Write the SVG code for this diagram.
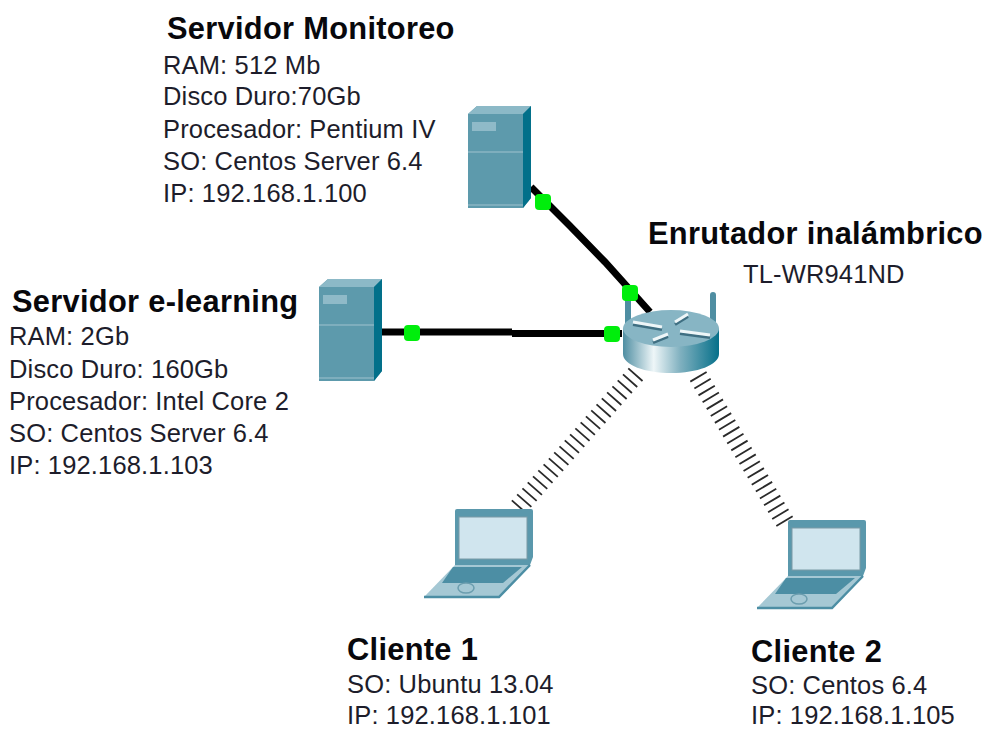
<svg xmlns="http://www.w3.org/2000/svg" width="988" height="729" viewBox="0 0 988 729">
<defs>
<style>
text{font-family:"Liberation Sans",Arial,sans-serif;fill:#1d1d2b;font-size:25.5px;letter-spacing:.15px}
.t{font-weight:bold;font-size:30.8px;fill:#08080c;letter-spacing:.3px}
.wire{stroke:#000;stroke-width:7;fill:none}
.wl{stroke:#2a2a2a;stroke-width:19;stroke-dasharray:1.8 6.2;fill:none}
.led{fill:#00ee0c}
</style>
<linearGradient id="rg" x1="0" x2="1" y1="0" y2="0">
<stop offset="0" stop-color="#4f8ea2"/><stop offset=".32" stop-color="#eef6f8"/><stop offset=".6" stop-color="#7fb0bf"/><stop offset="1" stop-color="#06708a"/>
</linearGradient>
<g id="srv">
<path d="M0 8L9 0H63V92L55 102H0Z" fill="#5d9aac"/>
<path d="M0 8L9 0H63L55 8Z" fill="#8cb9c7"/>
<path d="M55 8L63 0V92L55 102Z" fill="#02708a"/>
<path d="M0 46H55" stroke="#7eaebd" stroke-width="2"/>
<path d="M0 99H55" stroke="#7eaebd" stroke-width="2"/>
<rect x="4" y="16" width="24" height="9" fill="#8fbac8"/>
</g>
<g id="lap">
<path d="M33 0H107Q109 0 109 2V48L106 56H31V2Q31 0 33 0Z" fill="#5a98ac"/>
<rect x="35" y="8" width="68" height="42" fill="#d0e5ee" stroke="#7b9aa6"/>
<path d="M31 56H106L75 88H0Z" fill="#a5c8d4"/>
<path d="M29 58H98L79 74H18Z" fill="#4c8ea4"/>
<path d="M0 88H75L106 56" fill="none" stroke="#4c8ea4" stroke-width="2.5"/>
<ellipse cx="42" cy="79" rx="8" ry="5" fill="none" stroke="#6b9dae" stroke-width="1.500"/>
</g>
</defs>
<rect width="988" height="729" fill="#fff"/>
<g id="connectors">
<path class="wire" d="M531 187L570 226L605 262L650 312"/>
<path class="wire" d="M382 332H512M512 333.500H622"/>
<path class="wl" d="M636 374L516 510"/>
<path class="wl" d="M698 376L788 527"/>
</g>
<g id="servidor-monitoreo">
<use href="#srv" x="468" y="106"/>
<text class="t" x="167" y="39">Servidor Monitoreo</text>
<text x="163" y="74">RAM: 512 Mb</text>
<text x="163" y="105">Disco Duro:70Gb</text>
<text x="163" y="138">Procesador: Pentium IV</text>
<text x="163" y="170">SO: Centos Server 6.4</text>
<text x="163" y="202">IP: 192.168.1.100</text>
</g>
<g id="servidor-elearning">
<use href="#srv" x="319" y="279"/>
<text class="t" x="12" y="312">Servidor e-learning</text>
<text x="9" y="345">RAM: 2Gb</text>
<text x="9" y="378">Disco Duro: 160Gb</text>
<text x="9" y="410">Procesador: Intel Core 2</text>
<text x="9" y="442">SO: Centos Server 6.4</text>
<text x="9" y="474">IP: 192.168.1.103</text>
</g>
<g id="enrutador">
<path d="M628 332V296M713 332V295" stroke="#4f8ea2" stroke-width="6" stroke-linecap="round" fill="none"/>
<path d="M623 328V354C623 365 645 373 671 373S719 365 719 354V328Z" fill="url(#rg)"/>
<ellipse cx="671" cy="328.500" rx="48" ry="18.500" fill="#87b5c4"/>
<path d="M633 323L662 328M675 323L688 315M680 332L710 336M653 341L668 335" stroke="#3f6f82" stroke-width="3" fill="none" transform="translate(0 1.500)"/>
<path d="M633 322L662 327M675 322L688 314M680 331L710 335M653 340L668 334" stroke="#eef6f8" stroke-width="3" fill="none"/>
<text class="t" x="648" y="244">Enrutador inalámbrico</text>
<text x="743" y="283">TL-WR941ND</text>
</g>
<g id="cliente-1">
<use href="#lap" x="424" y="509"/>
<text class="t" x="347" y="660">Cliente 1</text>
<text x="347" y="693">SO: Ubuntu 13.04</text>
<text x="347" y="723.500">IP: 192.168.1.101</text>
</g>
<g id="cliente-2">
<use href="#lap" x="757" y="520"/>
<text class="t" x="751" y="662">Cliente 2</text>
<text x="751" y="694">SO: Centos 6.4</text>
<text x="751" y="723.500">IP: 192.168.1.105</text>
</g>
<g id="links-status">
<rect class="led" x="535" y="194" width="16" height="16" rx="4"/>
<rect class="led" x="622" y="285" width="16" height="16" rx="4"/>
<rect class="led" x="404" y="325" width="16" height="16" rx="4"/>
<rect class="led" x="604" y="326" width="16" height="16" rx="4"/>
</g>
</svg>
